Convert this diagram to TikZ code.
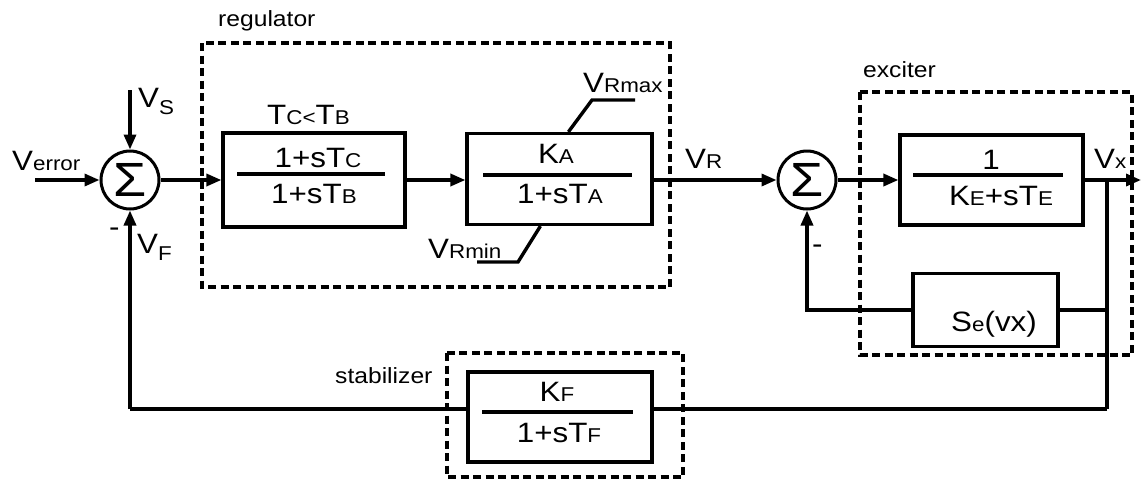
\documentclass[tikz,border=0pt]{standalone}
\usepackage{fontspec}
\setmainfont{Liberation Sans}[FakeStretch=1.12]
\usetikzlibrary{arrows.meta,calc}
\newcommand\smt[1]{{\fontsize{20}{20}\selectfont #1}}
\newcommand\smtl[1]{\raisebox{-7pt}{\smt{#1}}}
\begin{document}
\begin{tikzpicture}[x=1pt,y=-1pt,
  every node/.style={font=\fontsize{28}{30}\selectfont, inner sep=0pt},
  blk/.style={draw, line width=3.2pt, rectangle, minimum width=#1},
  sumnode/.style={draw, circle, line width=3pt, minimum size=58pt, font=\fontsize{48}{48}\selectfont},
  groupbox/.style={line width=3.6pt, dash pattern=on 8pt off 4.5pt},
  fracline/.style={line width=3.4pt},
  conn/.style={line width=3.4pt},
  arr/.style={conn, -{Triangle[length=15pt,width=12pt]}},
  lbl/.style={anchor=base west},
  grp/.style={anchor=base west, font=\fontsize{22}{24}\selectfont},
  num/.style={anchor=base}
]
\useasboundingbox (0,0) rectangle (1141,480);

% group boxes
\draw[groupbox] (202,43) rectangle (670,287);
\draw[groupbox] (860,92) rectangle (1132,355);
\draw[groupbox] (447,353) rectangle (683,477);
\node[grp] (greg) at (218,26) {regulator};
\node[grp] (gexc) at (863,77) {exciter};
\node[grp] (gstab) at (335,383) {stabilizer};

% summing junctions
\node[sumnode] (sum1) at (130,180) {\raisebox{-1pt}{Σ}};
\node[sumnode] (sum2) at (807,180) {\raisebox{-1pt}{Σ}};

% blocks
\node[blk=182pt, minimum height=94pt] (b1) at (314,180) {};
\node[blk=185pt, minimum height=91pt] (b2) at (559.5,179) {};
\node[blk=183pt, minimum height=90pt] (b3) at (991.5,180) {};
\node[blk=145pt, minimum height=73pt] (se) at (985.5,310) {};
\node[blk=184pt, minimum height=90pt] (stab) at (560,417) {};

% fraction lines
\draw[fracline] (237,174) -- (385,174);
\draw[fracline] (483,175) -- (632,175);
\draw[fracline] (913,175) -- (1063,175);
\draw[fracline] (482,412) -- (633,412);

% block texts
\node[num] (n1) at (318,167) {1+sT\smt{C}};
\node[num] (d1) at (314,203) {1+sT\smt{B}};
\node[lbl] (tcb) at (267,124) {T\smt{C<}T\smt{B}};
\node[num] (n2) at (556,163) {K\smt{A}};
\node[num] (d2) at (560,203) {1+sT\smt{A}};
\node[num] (n3) at (991,169) {1};
\node[num] (d3) at (1001,205) {K\smt{E}+sT\smt{E}};
\node[num] (set) at (994,331) {S\smt{e}(vx)};
\node[num] (n4) at (557,401) {K\smt{F}};
\node[num] (d4) at (559,442) {1+sT\smt{F}};

% signal labels
\node[lbl] (lverr) at (12,170) {V\smt{error}};
\node[lbl] (lvs) at (138,107) {V\smtl{S}};
\node[lbl] (lvf) at (137,253) {V\smtl{F}};
\node[lbl] (lm1) at (109,236) {-};
\node[lbl] (lvr) at (685,168) {V\smt{R}};
\node[lbl] (lvx) at (1094,168) {V\smt{x}};
\node[lbl] (lm2) at (812,253) {-};
\node[lbl] (lvrmax) at (583,92) {V\smt{Rmax}};
\node[lbl] (lvrmin) at (428,258) {V\smt{Rmin}};

% coordinates
\coordinate (verr) at (35,180);
\coordinate (vs) at (130,90);
\coordinate (out) at (1141,180);
\coordinate (br) at (1107,180);
\coordinate (brse) at (1107,310);
\coordinate (brst) at (1107,409);
\coordinate (fb) at (130,409);
\coordinate (rmax1) at (592,100);
\coordinate (rmax2) at (635,100);
\coordinate (rmin1) at (518,262);
\coordinate (rmin2) at (477,262);

% connectors
\draw[arr] (verr) -- (sum1.west);
\draw[arr] (vs) -- (sum1.north);
\draw[arr] (sum1.east) -- (b1.west);
\draw[arr] (b1.east) -- (b1.east -| b2.west);
\draw[arr] (b2.east |- sum2.west) -- (sum2.west);
\draw[arr] (sum2.east) -- (b3.west);
\draw[arr] (b3.east) -- (out);
\draw[conn] (br) -- (brst);
\draw[conn] (brse) -- (se.east);
\draw[arr] (se.west) -| (sum2.south);
\draw[conn] (brst) -- (stab.east |- brst);
\draw[conn] (stab.west |- brst) -- (fb);
\draw[arr] (fb) -- (sum1.south);

% limiters
\draw[conn] ([xshift=103pt]b2.north west) -- (rmax1) -- (rmax2);
\draw[conn] ([xshift=75pt]b2.south west) -- (rmin1) -- (rmin2);
\end{tikzpicture}
\end{document}
